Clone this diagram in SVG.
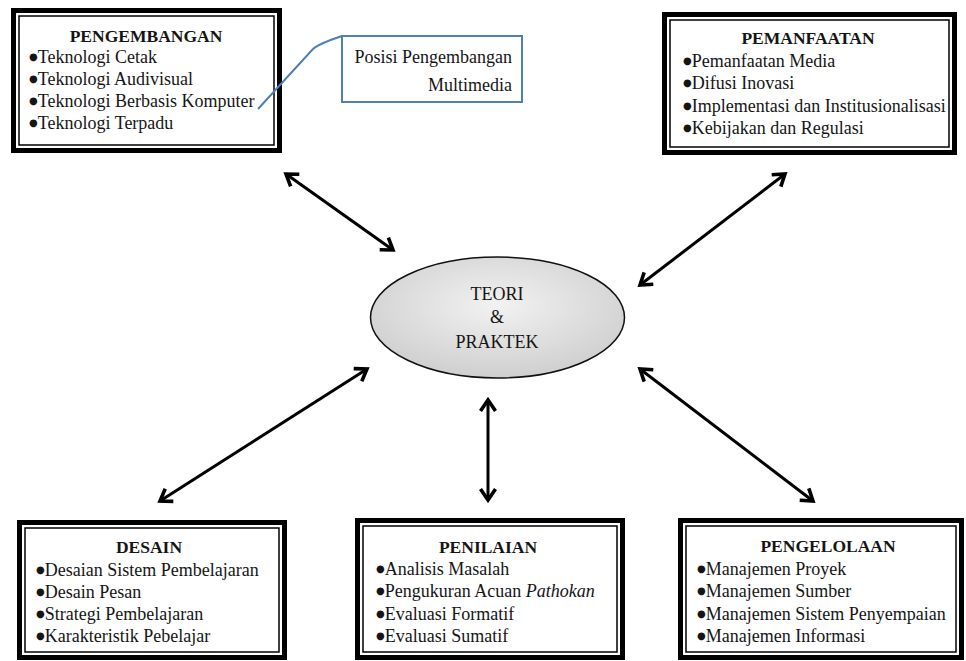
<svg xmlns="http://www.w3.org/2000/svg" width="966" height="661" viewBox="0 0 966 661">
<style>
.outer{fill:#fff;stroke:#000;stroke-width:5}
.inner{fill:none;stroke:#000;stroke-width:1.5}
.t{font-family:"Liberation Serif","Times New Roman",serif;font-size:18px;fill:#151515}
.h{font-weight:bold;text-anchor:middle;font-size:17.5px}
.c{text-anchor:middle}
.b{font-family:"DejaVu Sans",sans-serif;font-size:10px}
.conn{stroke:#000;stroke-width:3;fill:none;marker-start:url(#ah);marker-end:url(#ah)}
.blue{stroke:#4f7fb5;stroke-width:2;fill:none}
</style>
<defs>
<marker id="ah" markerUnits="userSpaceOnUse" viewBox="-14 -10 18 20" markerWidth="18" markerHeight="20" refX="0" refY="0" orient="auto-start-reverse">
<path d="M-11,-7.5 L0,0 L-11,7.5" fill="none" stroke="#000" stroke-width="3.6" stroke-linejoin="miter"/>
</marker>
<radialGradient id="eg" cx="50%" cy="40%" r="60%">
<stop offset="0" stop-color="#f2f2f2"/>
<stop offset="1" stop-color="#cfcfcf"/>
</radialGradient>
</defs>
<rect width="966" height="661" fill="#fff"/>

<g id="pengembangan">
<rect class="outer" x="13.5" y="10.5" width="266" height="140"/>
<rect class="inner" x="19" y="16" width="255" height="129"/>
<text class="t h" x="146" y="42">PENGEMBANGAN</text>
<text class="t" x="29" y="63"><tspan class="b" dy="-3.5">●</tspan><tspan dy="3.5">Teknologi Cetak</tspan></text>
<text class="t" x="29" y="85"><tspan class="b" dy="-3.5">●</tspan><tspan dy="3.5">Teknologi Audivisual</tspan></text>
<text class="t" x="29" y="107"><tspan class="b" dy="-3.5">●</tspan><tspan dy="3.5">Teknologi Berbasis Komputer</tspan></text>
<text class="t" x="29" y="129"><tspan class="b" dy="-3.5">●</tspan><tspan dy="3.5">Teknologi Terpadu</tspan></text>
</g>

<g id="callout">
<rect x="342" y="36" width="180" height="66" fill="#fff" stroke="#4f7fb5" stroke-width="2"/>
<text class="t" x="512" y="63" text-anchor="end">Posisi Pengembangan</text>
<text class="t" x="512" y="91" text-anchor="end">Multimedia</text>
</g>

<g id="pemanfaatan">
<rect class="outer" x="664.5" y="14.5" width="290" height="138"/>
<rect class="inner" x="670" y="20" width="279" height="127"/>
<text class="t h" x="808" y="44">PEMANFAATAN</text>
<text class="t" x="683" y="67"><tspan class="b" dy="-3.5">●</tspan><tspan dy="3.5">Pemanfaatan Media</tspan></text>
<text class="t" x="683" y="89"><tspan class="b" dy="-3.5">●</tspan><tspan dy="3.5">Difusi Inovasi</tspan></text>
<text class="t" x="683" y="112"><tspan class="b" dy="-3.5">●</tspan><tspan dy="3.5">Implementasi dan Institusionalisasi</tspan></text>
<text class="t" x="683" y="134"><tspan class="b" dy="-3.5">●</tspan><tspan dy="3.5">Kebijakan dan Regulasi</tspan></text>
</g>

<g id="teori">
<ellipse cx="497.5" cy="317.5" rx="127" ry="60.5" fill="url(#eg)" stroke="#111" stroke-width="1.5"/>
<text class="t c" x="497" y="300">TEORI</text>
<text class="t c" x="497" y="323">&amp;</text>
<text class="t c" x="497" y="348">PRAKTEK</text>
</g>

<g id="desain">
<rect class="outer" x="19.5" y="522.5" width="265" height="135"/>
<rect class="inner" x="25" y="528" width="254" height="124"/>
<text class="t h" x="149" y="553">DESAIN</text>
<text class="t" x="36" y="576"><tspan class="b" dy="-3.5">●</tspan><tspan dy="3.5">Desaian Sistem Pembelajaran</tspan></text>
<text class="t" x="36" y="598"><tspan class="b" dy="-3.5">●</tspan><tspan dy="3.5">Desain Pesan</tspan></text>
<text class="t" x="36" y="620"><tspan class="b" dy="-3.5">●</tspan><tspan dy="3.5">Strategi  Pembelajaran</tspan></text>
<text class="t" x="36" y="642"><tspan class="b" dy="-3.5">●</tspan><tspan dy="3.5">Karakteristik Pebelajar</tspan></text>
</g>

<g id="penilaian">
<rect class="outer" x="357.5" y="520.5" width="265" height="137"/>
<rect class="inner" x="363" y="526" width="254" height="126"/>
<text class="t h" x="488" y="553">PENILAIAN</text>
<text class="t" x="376" y="575"><tspan class="b" dy="-3.5">●</tspan><tspan dy="3.5">Analisis Masalah</tspan></text>
<text class="t" x="376" y="597"><tspan class="b" dy="-3.5">●</tspan><tspan dy="3.5">Pengukuran Acuan </tspan><tspan font-style="italic">Pathokan</tspan></text>
<text class="t" x="376" y="620"><tspan class="b" dy="-3.5">●</tspan><tspan dy="3.5">Evaluasi Formatif</tspan></text>
<text class="t" x="376" y="642"><tspan class="b" dy="-3.5">●</tspan><tspan dy="3.5">Evaluasi Sumatif</tspan></text>
</g>

<g id="pengelolaan">
<rect class="outer" x="680.5" y="520.5" width="281" height="137"/>
<rect class="inner" x="686" y="526" width="270" height="126"/>
<text class="t h" x="828" y="552">PENGELOLAAN</text>
<text class="t" x="697" y="575"><tspan class="b" dy="-3.5">●</tspan><tspan dy="3.5">Manajemen Proyek</tspan></text>
<text class="t" x="697" y="597"><tspan class="b" dy="-3.5">●</tspan><tspan dy="3.5">Manajemen Sumber</tspan></text>
<text class="t" x="697" y="620"><tspan class="b" dy="-3.5">●</tspan><tspan dy="3.5">Manajemen Sistem Penyempaian</tspan></text>
<text class="t" x="697" y="642"><tspan class="b" dy="-3.5">●</tspan><tspan dy="3.5">Manajemen Informasi</tspan></text>
</g>

<g id="connectors">
<line class="conn" x1="286" y1="174" x2="393" y2="250"/>
<line class="conn" x1="785" y1="174" x2="640" y2="285"/>
<line class="conn" x1="367" y1="369" x2="160" y2="501"/>
<line class="conn" x1="488" y1="400" x2="488" y2="500"/>
<line class="conn" x1="640" y1="369" x2="813" y2="501"/>
<path class="blue" d="M258,109 L313,49 Q318,44 342,36"/>
</g>
</svg>
